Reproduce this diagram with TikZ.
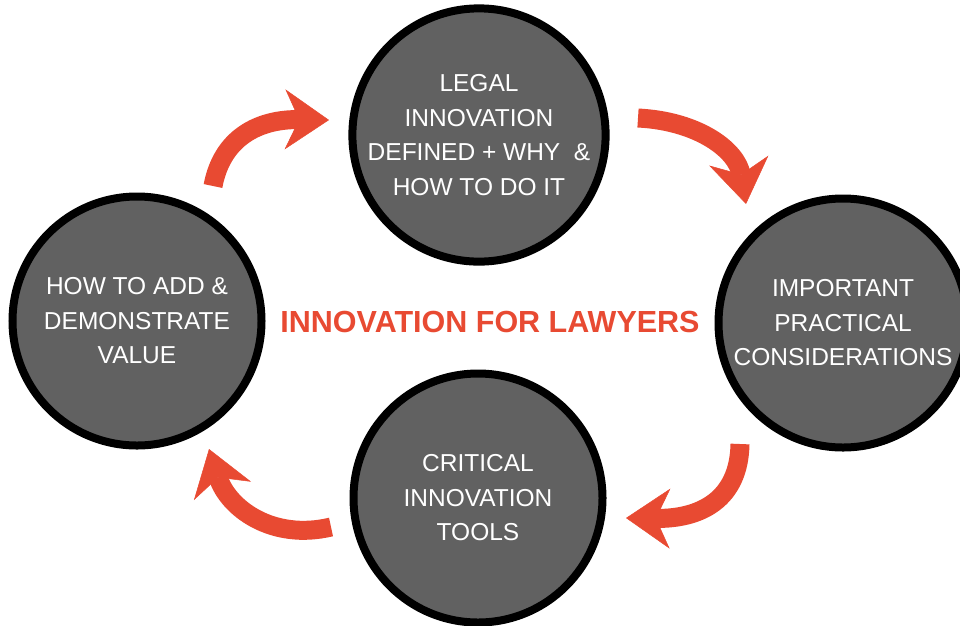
\documentclass[tikz,border=0pt]{standalone}
\usepackage{fontspec}
\setmainfont{Liberation Sans}
\usetikzlibrary{arrows.meta}
\definecolor{lawred}{HTML}{E84A32}
\definecolor{discgray}{HTML}{616161}
\tikzset{
	topic/.style={circle,draw=black,line width=8pt,fill=discgray,minimum size=249pt,inner sep=0pt,
		text=white,align=center,font=\fontsize{24.5}{34.5}\selectfont},
	cyclearrow/.style={draw=lawred,line width=19pt,
		-{Stealth[length=44pt,width=60pt,inset=14pt,line width=0.5pt]}}
}
\begin{document}
\begin{tikzpicture}[x=1pt,y=-1pt]
	\useasboundingbox (0,0) rectangle (960,625);
	\clip (0,0) rectangle (960,625);
	
	%circles
	\node[topic] (legal) at (479,135) {LEGAL\\INNOVATION\\DEFINED + WHY\ \ \&\\HOW TO DO IT}; %top
	\node[topic] (practical) at (843,323) {IMPORTANT\\PRACTICAL\\CONSIDERATIONS}; %right
	\node[topic] (tools) at (478,498) {CRITICAL\\INNOVATION\\TOOLS}; %bottom
	\node[topic] (value) at (137,321) {HOW TO ADD \&\\DEMONSTRATE\\VALUE}; %left
	
	%title
	\node[text=lawred,font=\fontsize{30.5}{36}\selectfont\bfseries] (title) at (490,322) {INNOVATION FOR LAWYERS};
	
	%arrow ends
	\coordinate (a1) at (213,186); \coordinate (b1) at (329,120);
	\coordinate (a2) at (638,118); \coordinate (b2) at (746,204);
	\coordinate (a3) at (740,444); \coordinate (b3) at (626,518);
	\coordinate (a4) at (331,527); \coordinate (b4) at (209,449);
	
	%arrows
	\draw[cyclearrow] (a1) .. controls (222,138) and (258,119) .. (b1); %value -> legal
	\draw[cyclearrow] (a2) .. controls (698,121) and (737,150) .. (b2); %legal -> practical
	\draw[cyclearrow] (a3) .. controls (739,500) and (700,519) .. (b3); %practical -> tools
	\draw[cyclearrow] (a4) .. controls (272,541) and (228,508) .. (b4); %tools -> value
\end{tikzpicture}
\end{document}
